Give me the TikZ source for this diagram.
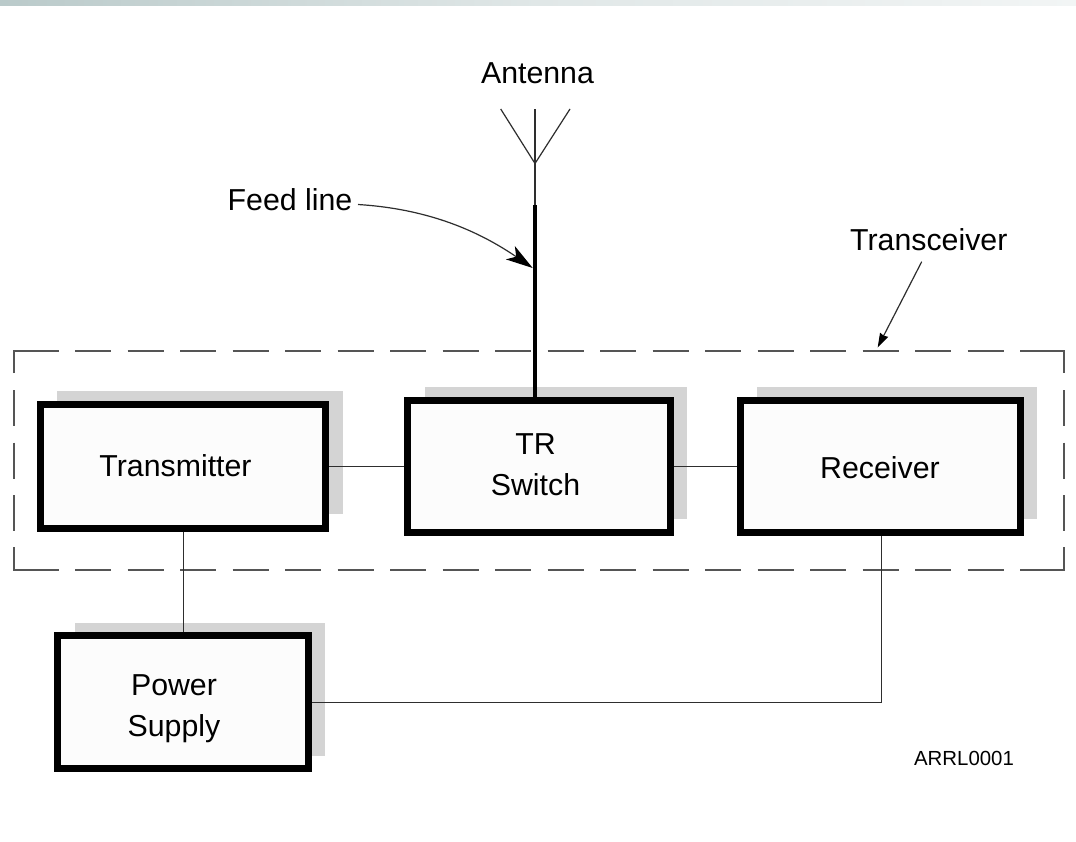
\documentclass[tikz,border=0pt]{standalone}
\usepackage{fontspec}
\setmainfont{Liberation Sans}
\usetikzlibrary{arrows.meta}
\definecolor{shadowgray}{HTML}{D4D4D4}
\definecolor{boxfill}{HTML}{FCFCFC}
\definecolor{thinline}{HTML}{2E2E2E}
\definecolor{dashline}{HTML}{555555}
\definecolor{bandA}{HTML}{BACACA}
\definecolor{bandB}{HTML}{E0E7E7}
\definecolor{bandC}{HTML}{F2F5F5}
\tikzset{
  blockbox/.style 2 args={draw=black, fill=boxfill, line width=7pt, inner sep=0pt, minimum width=#1, minimum height=#2},
  boxshadow/.style={fill=shadowgray},
  txt/.style={font=\fontsize{30.3pt}{34pt}\selectfont, anchor=base, inner sep=0pt, text=black},
  smalltxt/.style={font=\fontsize{20.4pt}{24pt}\selectfont, anchor=base, inner sep=0pt, text=black},
  wire/.style={draw=thinline, line width=1.2pt},
  feedwire/.style={draw=black, line width=3.8pt},
  dashside/.style={draw=dashline, line width=1.3pt, dash pattern=on 36pt off 16.5pt},
  dashcorner/.style={draw=dashline, line width=1.3pt, line join=miter},
}
\begin{document}
\begin{tikzpicture}[x=1pt,y=-1pt]
\useasboundingbox (0,0) rectangle (1076,841);
\fill[white] (0,0) rectangle (1076,841);
% top band
\shade[left color=bandA, right color=bandB] (0,0) rectangle (538,5.7);
\shade[left color=bandB, right color=bandC] (538,0) rectangle (1076,5.7);
% shadows
\fill[boxshadow] (57.3,390.7) rectangle (342.7,514.3);
\fill[boxshadow] (425,386.7) rectangle (687,518.7);
\fill[boxshadow] (757.3,386.7) rectangle (1037,518.7);
\fill[boxshadow] (75,622.7) rectangle (325.3,756);
% transceiver outline
\draw[dashcorner] (14,373) -- (14,351) -- (58.5,351);
\draw[dashcorner] (1020,351) -- (1064,351) -- (1064,373);
\draw[dashcorner] (14,547) -- (14,570) -- (58.5,570);
\draw[dashcorner] (1020,570) -- (1064,570) -- (1064,547);
\draw[dashside] (75,351) -- (1003.5,351);
\draw[dashside] (75,570) -- (1003.5,570);
\draw[dashside] (14,390) -- (14,530.5);
\draw[dashside] (1064,390) -- (1064,530.5);
% blocks
\node[blockbox={285.6pt}{124.3pt}] (tx) at (183,466.3) {};
\node[blockbox={262.7pt}{132.3pt}] (tr) at (539.2,466.3) {};
\node[blockbox={280.3pt}{132.3pt}] (rx) at (880.4,466.3) {};
\node[blockbox={250.7pt}{133pt}] (ps) at (183.2,702.3) {};
% antenna
\coordinate (apex) at (535,163.5);
\coordinate (tipl) at (500.7,109);
\coordinate (tipm) at (535,109);
\coordinate (tipr) at (570,109);
\coordinate (feedtop) at (535,205);
\draw[wire] (tipl) -- (apex) -- (tipr);
\draw[wire] (tipm) -- (feedtop);
\draw[feedwire] (feedtop) -- (feedtop |- tr.north);
% connectors
\draw[wire] (tx.east |- 0,466.5) -- (tr.west |- 0,466.5);
\draw[wire] (tr.east |- 0,466.5) -- (rx.west |- 0,466.5);
\draw[wire] (tx.south -| 183.5,0) -- (ps.north -| 183.5,0);
\draw[wire] (rx.south -| 881.5,0) -- (881.5,702.5) -- (ps.east |- 0,702.5);
% labels
\node[txt] (antlabel) at (537.5,83.5) {Antenna};
\node[txt] (feedlabel) at (290,210) {Feed line};
\node[txt] (tcvlabel) at (928.8,250.7) {Transceiver};
\node[txt] (txlabel) at (175.5,476) {Transmitter};
\node[txt] (trlabel) at (535.5,454) {TR};
\node[txt] (swlabel) at (535.5,495) {Switch};
\node[txt] (rxlabel) at (880,478.3) {Receiver};
\node[txt] (pslabel) at (174,695) {Power};
\node[txt] (sulabel) at (174,736) {Supply};
\node[smalltxt] (arrl) at (964,765) {ARRL0001};
% pointers
\coordinate (feedstart) at (358,204.5);
\coordinate (feedtip) at (532.7,268);
\coordinate (tcvstart) at (921.7,261.7);
\coordinate (tcvtip) at (877.7,347.3);
\draw[wire, -{Stealth[length=27pt,width=16pt,inset=7pt,color=black,fill=black]}] (feedstart) .. controls (430,209) and (480,232) .. (feedtip);
\draw[wire, -{Stealth[length=14pt,width=9pt,inset=1pt,color=black,fill=black]}] (tcvstart) -- (tcvtip);
\end{tikzpicture}
\end{document}
